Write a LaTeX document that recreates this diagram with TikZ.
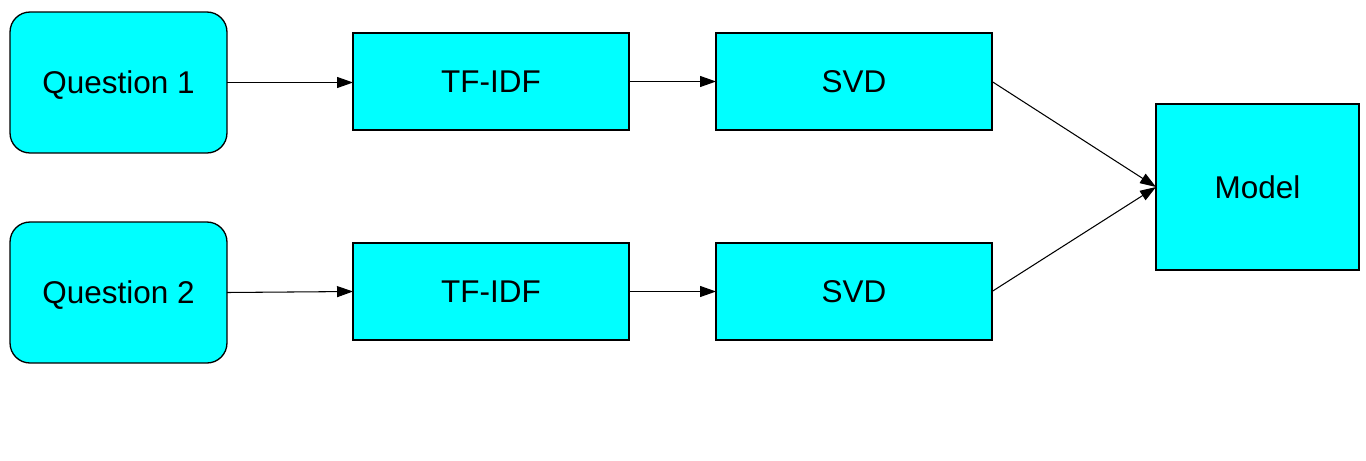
\documentclass[tikz,border=0pt]{standalone}
\usepackage{fontspec}
\setmainfont{Liberation Sans}
\usetikzlibrary{arrows.meta}

\definecolor{boxcyan}{RGB}{0,255,255}

\tikzset{
  box/.style={draw, fill=boxcyan, line width=0.75pt, inner sep=0pt, outer sep=0pt,
    font=\fontsize{17.9}{20}\selectfont, text height=12.8pt, text depth=0pt},
  question/.style={box, rounded corners=0.4cm, minimum width=4.34cm, minimum height=2.82cm},
  stage/.style={box, minimum width=5.52cm, minimum height=1.94cm},
  flow/.style={-{Triangle[length=0.32cm, width=0.22cm]}, line width=0.6pt}
}

\begin{document}
\begin{tikzpicture}[x=0.02cm, y=-0.02cm]
\useasboundingbox (0,0) rectangle (1366,460);

\node (q1) at (118.5,82.5) [question] {Question 1};
\node (q2) at (118.5,292.5) [question] {Question 2};
\node (tf1) at (491,81.5) [stage] {TF-IDF};
\node (tf2) at (491,291.5) [stage] {TF-IDF};
\node (svd1) at (854,81.5) [stage] {SVD};
\node (svd2) at (854,291.5) [stage] {SVD};
\node (model) at (1257.5,187) [box, minimum width=4.06cm, minimum height=3.32cm] {Model};

\draw [flow] (q1.east) -- (tf1.west |- q1.east);
\draw [flow] (q2.east) -- (tf2.west);
\draw [flow] (tf1) -- (svd1);
\draw [flow] (tf2) -- (svd2);
\draw [flow] (svd1.east) -- (model.west);
\draw [flow] (svd2.east) -- (model.west);
\end{tikzpicture}
\end{document}
